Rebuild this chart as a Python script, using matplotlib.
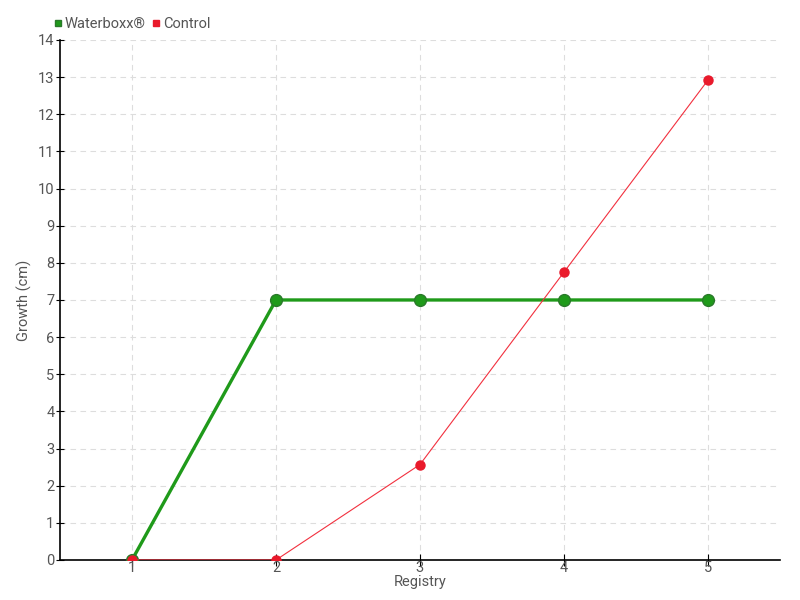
import matplotlib.pyplot as plt

registry = [1, 2, 3, 4, 5]
waterboxx = [0, 7, 7, 7, 7]
control = [0, 0, 2.57, 7.75, 12.92]
yticks = list(range(0, 15))

plt.rcParams['font.family'] = ['Roboto', 'DejaVu Sans']

fig = plt.figure(figsize=(8, 6), dpi=100)
ax = fig.add_axes([0.075, 0.0667, 0.9, 0.8667])

ax.plot(registry, waterboxx, color='#1f9a1a', lw=2.4, marker='o', ms=8.5,
        markeredgecolor='#2a7a2a', markeredgewidth=1, label='Waterboxx®', zorder=3)
ax.plot(registry, control, color='#f2303e', lw=0.8, marker='o', ms=6.5,
        markeredgecolor='#e8192c', markerfacecolor='#ea1a2a', label='Control', zorder=4)

ax.set_xlim(0.5, 5.5)
ax.set_ylim(0, 14)
ax.set_xticks(registry)
ax.set_yticks(yticks)
ax.grid(True, color='#dddddd', linestyle=(0, (5, 4)), lw=0.8)
ax.set_axisbelow(True)
for s in ['top', 'right']:
    ax.spines[s].set_visible(False)
ax.spines['left'].set_linewidth(1.2)
ax.spines['bottom'].set_linewidth(1.2)
ax.tick_params(axis='x', direction='inout', length=8, pad=-3, labelsize=10.5, labelcolor='#555555')
ax.tick_params(axis='y', direction='inout', length=6, pad=1, labelsize=10.5, labelcolor='#555555')
ax.set_xlabel('Registry', fontsize=10.5, color='#555555', labelpad=0)
ax.set_ylabel('Growth (cm)', fontsize=10.5, color='#555555', labelpad=4)

leg = ax.legend(loc='lower left', bbox_to_anchor=(-0.02, 1.0), ncol=2, frameon=False,
                fontsize=10.5, handlelength=0.5, handletextpad=0.2, columnspacing=0.5,
                borderaxespad=0.2)
for h in leg.legend_handles:
    h.set_linestyle('')
    h.set_marker('s')
    h.set_markersize(5)
for t in leg.get_texts():
    t.set_color('#555555')

fig.savefig('out.png')
